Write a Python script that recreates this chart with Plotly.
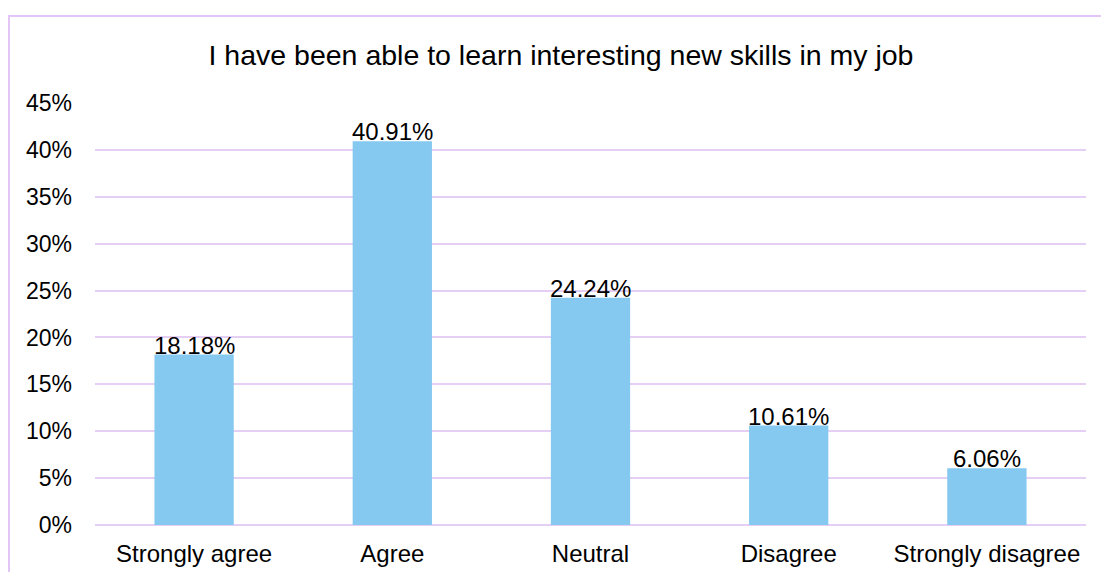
import plotly.graph_objects as go

# Survey responses
categories = ["Strongly agree", "Agree", "Neutral", "Disagree", "Strongly disagree"]
shares = [18.18, 40.91, 24.24, 10.61, 6.06]
y_ticks = [0, 5, 10, 15, 20, 25, 30, 35, 40, 45]
title_text = "I have been able to learn interesting new skills in my job"

BAR = "#85C8F0"
GRID = "#E6CFF5"
FONT = "Liberation Sans, Arial, sans-serif"

fig = go.Figure(
    go.Bar(
        x=categories,
        y=shares,
        marker=dict(color=BAR, line=dict(width=0)),
        width=0.4,
        hoverinfo="skip",
    )
)

# Value labels sitting on top of each bar
for cat, val in zip(categories, shares):
    fig.add_annotation(
        x=cat, y=val, xref="x", yref="y",
        text=f"{val:.2f}%",
        showarrow=False, yanchor="bottom", yshift=-6,
        font=dict(family=FONT, size=24, color="#000000"),
    )

# Outer chart frame (runs off the right and bottom edges)
fig.add_shape(
    type="rect", xref="paper", yref="paper",
    x0=-86 / 991, x1=1.1, y0=-0.2, y1=1 + 87 / 422,
    line=dict(color="#E3C6F7", width=2), fillcolor="rgba(0,0,0,0)",
    layer="below",
)

fig.update_layout(
    width=1101, height=572,
    margin=dict(l=95, r=15, t=103, b=47, autoexpand=False),
    paper_bgcolor="#FFFFFF", plot_bgcolor="#FFFFFF",
    showlegend=False,
    bargap=0.6,
    font=dict(family=FONT, color="#000000"),
    title=dict(
        text=title_text, xref="container", yref="container",
        x=561 / 1101, y=1 - 55 / 572, xanchor="center", yanchor="middle",
        font=dict(family=FONT, size=28.5, color="#000000"),
    ),
)
fig.update_xaxes(
    showgrid=False, zeroline=False, showline=False, automargin=False,
    tickfont=dict(size=24, family=FONT, color="#000000"),
    ticks="", ticklabelstandoff=12,
)
fig.update_yaxes(
    range=[0, 45], tickvals=y_ticks, ticktext=[f"{t}%" for t in y_ticks],
    showgrid=True, gridcolor=GRID, gridwidth=2, automargin=False,
    zeroline=True, zerolinecolor=GRID, zerolinewidth=2,
    showline=False, ticks="", ticklabelstandoff=22,
    tickfont=dict(size=23, family=FONT, color="#000000"),
)

fig.write_html("out.html")
